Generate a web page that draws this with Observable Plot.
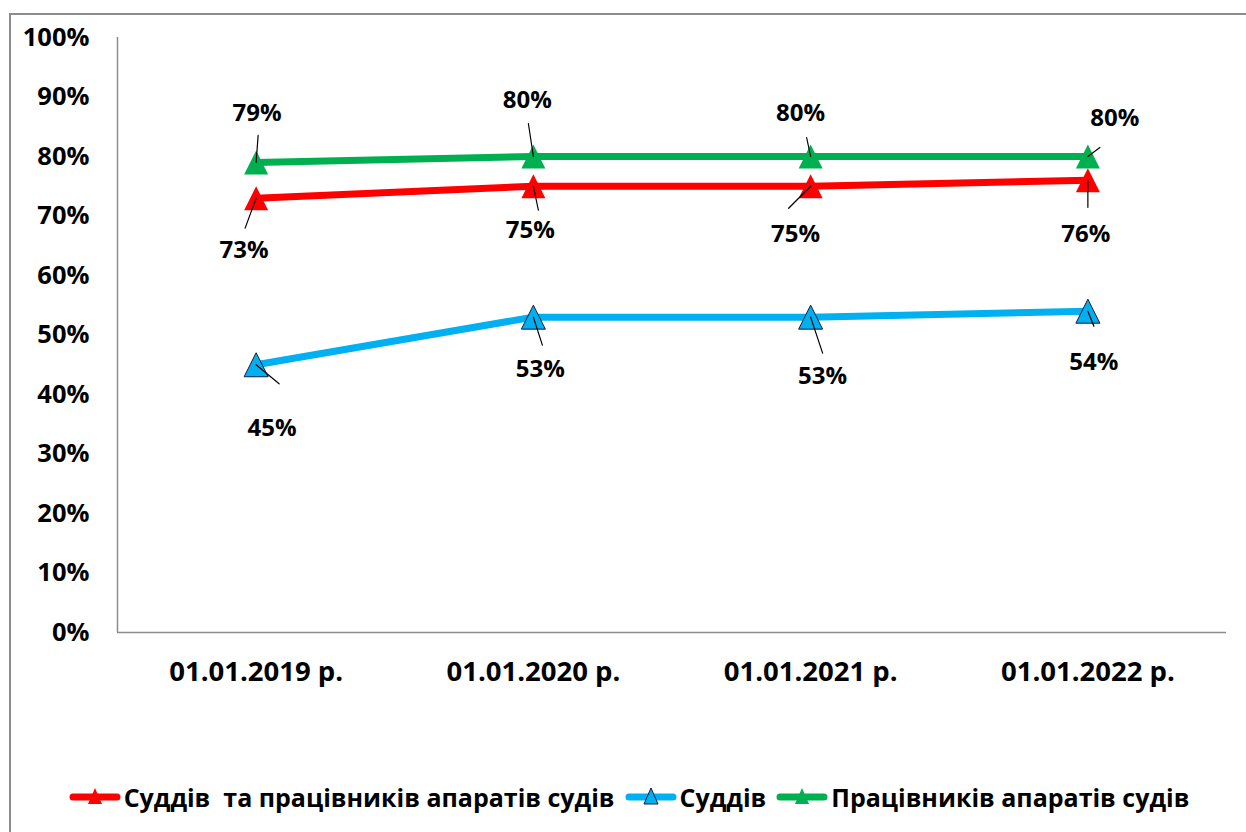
<!DOCTYPE html>
<html><head><meta charset="utf-8">
<script src="https://cdn.jsdelivr.net/npm/d3@7"></script>
<script src="https://cdn.jsdelivr.net/npm/@observablehq/plot@0.6"></script>
<style>
body{margin:0;background:#fff;font-family:"Open Sans",sans-serif;width:1246px;height:832px;overflow:hidden;position:relative}
#frame{position:absolute;left:9px;top:13px;width:1300px;height:900px;border:2px solid #8c8c8c;box-sizing:border-box}
#chart{position:absolute;left:0;top:0}
#legend{position:absolute;left:0;top:780px;width:1246px;display:flex;justify-content:center;align-items:center;font-weight:700;font-size:25px;color:#000;padding-left:22px;box-sizing:border-box}
.item{display:flex;align-items:center;margin-right:10px;white-space:pre}
.item svg{margin-right:3px}
</style>
</head><body>
<div id="frame"></div>
<div id="chart"></div>
<div id="legend"></div>
<script>
const categories = ["01.01.2019 р.", "01.01.2020 р.", "01.01.2021 р.", "01.01.2022 р."];
const seriesNames = ["Суддів  та працівників апаратів судів", "Суддів", "Працівників апаратів судів"];
const judgesAndStaff = [0.73, 0.75, 0.75, 0.76];
const judges = [0.45, 0.53, 0.53, 0.54];
const staff = [0.79, 0.80, 0.80, 0.80];
const yTicks = [0, 0.1, 0.2, 0.3, 0.4, 0.5, 0.6, 0.7, 0.8, 0.9, 1.0];

const seriesValues = [judgesAndStaff, judges, staff];
const colors = ["#ff0000", "#00b0f0", "#00b050"];
const markerStroke = ["none", "#1a1a3a", "none"];
// label placement (pixel offsets from the point): [labelDx, labelDy, leaderDx, leaderDy]
const labelOffsets = [
  [[-12, 52, -11, 30], [-3, 44, 5, 24], [-15, 48, -22, 22], [-2, 54, 0, 27]],
  [[16, 64, 23, 19], [7, 52, 9, 28], [12, 59, 12, 36], [6, 51, 6, 15]],
  [[1, -49, 2, -27], [-6, -56, -5, -33], [-10, -43, -4, -19], [27, -38, 12, -9]]
];

const rows = [];
seriesValues.forEach((vals, s) => vals.forEach((v, i) => rows.push({i, v, s, series: seriesNames[s]})));

const tri = {draw(ctx, size) { const r = Math.sqrt(size / Math.PI); ctx.moveTo(0, -r); ctx.lineTo(r, r); ctx.lineTo(-r, r); ctx.closePath(); }};
const pct = d => Math.round(d * 100) + "%";
const FONT = 24;

const marks = [
  Plot.ruleY([0], {stroke: "#8c8c8c", strokeWidth: 1.5}),
  Plot.ruleX([-0.5], {y1: 0, y2: 1, stroke: "#8c8c8c", strokeWidth: 1.5}),
  Plot.axisY({ticks: yTicks, tickFormat: pct, tickSize: 0, tickPadding: 28, fontSize: 25.5, fontWeight: "bold", fill: "#000", label: null}),
  Plot.axisX({ticks: [0, 1, 2, 3], tickFormat: i => categories[i], tickSize: 0, tickPadding: 29, fontSize: 27.5, fontWeight: "bold", fill: "#000", label: null})
];
seriesValues.forEach((vals, s) => {
  const data = rows.filter(r => r.s === s);
  marks.push(Plot.line(data, {x: "i", y: "v", stroke: colors[s], strokeWidth: 7}));
  marks.push(Plot.dot(data, {x: "i", y: "v", symbol: tri, r: 12, fill: colors[s], stroke: markerStroke[s], strokeWidth: 1}));
});
rows.forEach(r => {
  const [ldx, ldy, ex, ey] = labelOffsets[r.s][r.i];
  const len = Math.hypot(ex, ey);
  const rot = Math.atan2(ex, -ey) * 180 / Math.PI;
  marks.push(Plot.vector([r], {x: "i", y: "v", length: len, rotate: rot, anchor: "start", stroke: "#000", strokeWidth: 1.2,
    shape: {draw(ctx, l) { ctx.moveTo(0, 0); ctx.lineTo(0, -l); }}}));
  marks.push(Plot.text([r], {x: "i", y: "v", text: d => pct(d.v), dx: ldx, dy: ldy, fontSize: FONT, fontWeight: "bold", fill: "#000"}));
});

const chart = Plot.plot({
  width: 1246,
  height: 720,
  marginLeft: 117,
  marginRight: 20,
  marginTop: 37,
  marginBottom: 88,
  style: {fontFamily: "'Open Sans', sans-serif", fontSize: FONT + "px", background: "transparent", overflow: "visible"},
  x: {type: "linear", domain: [-0.5, 3.5], axis: null, label: null},
  y: {domain: [0, 1], axis: null, label: null},
  marks
});
document.getElementById("chart").appendChild(chart);

const legend = document.getElementById("legend");
seriesNames.forEach((name, s) => {
  const item = document.createElement("div");
  item.className = "item";
  const st = markerStroke[s] === "none" ? "" : ` stroke="${markerStroke[s]}" stroke-width="1"`;
  item.innerHTML = `<svg width="52" height="24"><line x1="4" y1="12" x2="48" y2="12" stroke="${colors[s]}" stroke-width="7" stroke-linecap="round"/><path d="M26,3 L33,19 L19,19 Z" fill="${colors[s]}"${st}/></svg><span>${name}</span>`;
  legend.appendChild(item);
});
</script>
</body></html>
